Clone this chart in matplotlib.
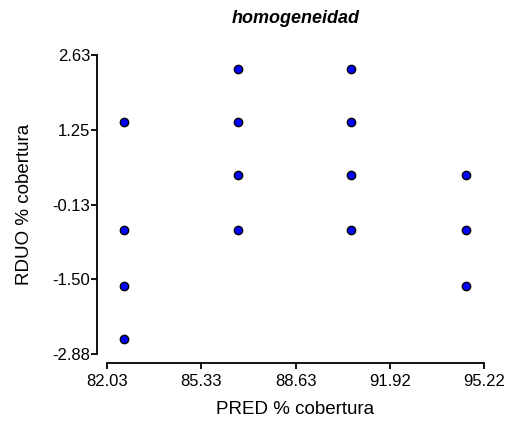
import matplotlib
matplotlib.use("Agg")
import matplotlib.pyplot as plt

# data
pred = [82.63, 82.63, 82.63, 82.63,
        86.63, 86.63, 86.63, 86.63,
        90.57, 90.57, 90.57, 90.57,
        94.57, 94.57, 94.57]
rduo = [1.40, -0.60, -1.62, -2.61,
        2.37, 1.40, 0.41, -0.60,
        2.37, 1.40, 0.41, -0.60,
        0.41, -0.60, -1.62]

xticks = [82.03, 85.33, 88.63, 91.92, 95.22]
yticks = [-2.88, -1.50, -0.13, 1.25, 2.63]

plt.rcParams['font.family'] = ['Liberation Sans', 'DejaVu Sans']

fig = plt.figure(figsize=(5.16, 4.25), dpi=100)
ax = fig.add_axes([0.2068, 0.1671, 0.7318, 0.7035])

ax.scatter(pred, rduo, s=36, c='#0000ff', edgecolors='black', linewidths=1.0, zorder=3, clip_on=False)

ax.set_xlim(82.03, 95.22)
ax.set_ylim(-2.88, 2.63)
ax.set_xticks(xticks)
ax.set_xticklabels(["%.2f" % v for v in xticks])
ax.set_yticks(yticks)
ax.set_yticklabels(["%.2f" % v for v in yticks])

for s in ['top', 'right']:
    ax.spines[s].set_visible(False)
ax.spines['left'].set_position(('outward', 7.2))
ax.spines['bottom'].set_position(('outward', 6.3))
ax.spines['left'].set_linewidth(1.3)
ax.spines['bottom'].set_linewidth(1.3)
ax.tick_params(direction='out', length=4.3, width=1.3, labelsize=12)
ax.tick_params(axis='y', pad=0.5)
ax.tick_params(axis='x', pad=3.5)

ax.set_xlabel("PRED % cobertura", fontsize=13.5, labelpad=9)
ax.set_ylabel("RDUO % cobertura", fontsize=13.5, labelpad=14)
ax.set_title("homogeneidad", fontsize=13, fontweight='bold', style='italic', pad=23)

fig.savefig("out.png", dpi=100)
